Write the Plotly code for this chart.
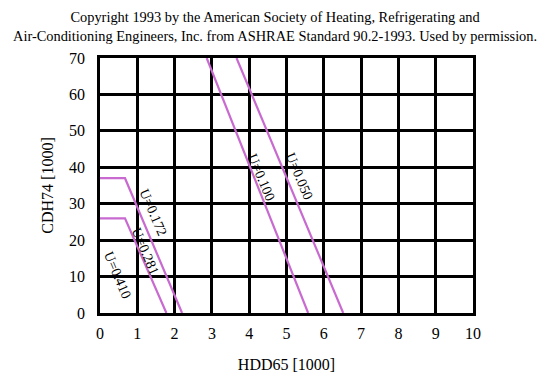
import plotly.graph_objects as go

# Data (HDD65 [1000], CDH74 [1000])
u172_x = [0, 0.67, 2.2]
u172_y = [37, 37, 0]
u281_x = [0, 0.67, 1.78]
u281_y = [26, 26, 0]
u100_x = [2.86, 5.58]
u100_y = [70, 0]
u050_x = [3.66, 6.52]
u050_y = [70, 0]

labels = ["U=0.172", "U=0.281", "U=0.410", "U=0.100", "U=0.050"]
label_x = [1.42, 1.21, 0.48, 4.32, 5.34]
label_y = [27.5, 16.8, 10.4, 37.1, 37.4]

x_ticks = list(range(0, 11))
y_ticks = list(range(0, 71, 10))

pink = "#c86ad0"
font = "Liberation Serif"

fig = go.Figure()
for xs, ys in [(u172_x, u172_y), (u281_x, u281_y), (u100_x, u100_y), (u050_x, u050_y)]:
    fig.add_trace(go.Scatter(x=xs, y=ys, mode="lines",
                             line=dict(color=pink, width=2.2),
                             showlegend=False, hoverinfo="skip", cliponaxis=False))

for t, lx, ly in zip(labels, label_x, label_y):
    fig.add_annotation(x=lx, y=ly, text=t, showarrow=False, textangle=67,
                       font=dict(family=font, size=14, color="black"))

fig.add_annotation(xref="paper", yref="paper", x=0.469, y=1.0, yshift=12,
                   yanchor="bottom",
                   text="Copyright 1993 by the American Society of Heating, Refrigerating and<br>"
                        "Air-Conditioning Engineers, Inc. from ASHRAE Standard 90.2-1993. Used by permission.",
                   showarrow=False, align="center",
                   font=dict(family=font, size=14.4, color="black"))

fig.update_xaxes(range=[0, 10], tickvals=x_ticks, showgrid=True, gridcolor="black",
                 gridwidth=2.5, showline=True, linecolor="black", linewidth=2.5,
                 mirror=True, zeroline=False, ticks="", ticklabelstandoff=4,
                 tickfont=dict(family=font, size=16, color="black"),
                 title=dict(text="HDD65 [1000]", font=dict(family=font, size=16, color="black"),
                            standoff=18))
fig.update_yaxes(range=[0, 70], tickvals=y_ticks, showgrid=True, gridcolor="black",
                 gridwidth=2.5, showline=True, linecolor="black", linewidth=2.5,
                 mirror=True, zeroline=False, ticks="", ticklabelstandoff=9,
                 tickfont=dict(family=font, size=16, color="black"),
                 title=dict(text="CDH74 [1000]", font=dict(family=font, size=16, color="black"),
                            standoff=12))

fig.update_layout(width=550, height=378, plot_bgcolor="white", paper_bgcolor="white",
                  margin=dict(l=92, r=85, t=50, b=73))

fig.write_html("out.html")
